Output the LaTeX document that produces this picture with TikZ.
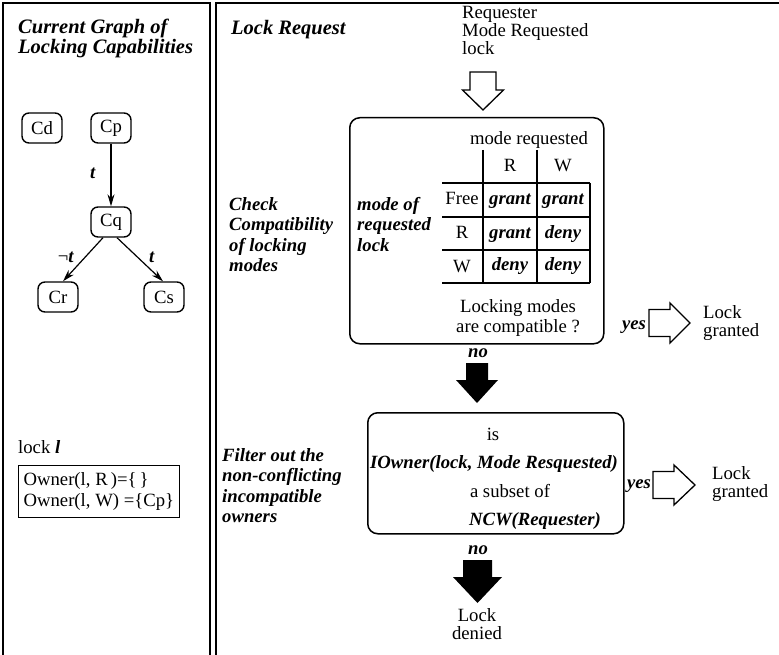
\documentclass[tikz,border=0pt]{standalone}
\usepackage{fontspec}
\setmainfont{Liberation Serif}
\usetikzlibrary{positioning,arrows.meta}

\newcommand{\bfit}[1]{\textbf{\textit{#1}}}

\tikzset{
  txt/.style={inner sep=0pt, font=\fontsize{18.7}{20.5}\selectfont},
  txtbi/.style={inner sep=0pt, font=\fontsize{18.7}{20.5}\selectfont\bfseries\itshape},
  shortlines/.style={inner sep=0pt, font=\fontsize{18.7}{18}\selectfont},
  heading/.style={inner sep=0pt, font=\fontsize{20.5}{17.5}\selectfont\bfseries\itshape},
  cell/.style={text height=13pt, text depth=4pt},
  capnode/.style={txt, draw, line width=1.4pt, rounded corners=7pt, minimum width=40pt, minimum height=30pt},
  flowbox/.style={draw, line width=1.5pt, rounded corners=10pt},
  capedge/.style={line width=1.2pt, -{Stealth[length=12pt,width=7pt]}},
  tabline/.style={line width=1.2pt},
  panel/.style={line width=1.5pt},
  hollow/.style={draw, line width=1.3pt, fill=white, line join=miter},
  darkarrow/.style={fill=black}
}

\begin{document}
\begin{tikzpicture}[x=1pt, y=-1pt]
  \useasboundingbox (0,0) rectangle (779,655);

  % the two panels
  \draw[panel] (3,680) -- (3,3) -- (210,3) -- (210,680);
  \draw[panel] (800,3) -- (216,3) -- (216,680);

  % left panel: capabilities
  \node[heading, anchor=north west, align=left] (graphtitle) at (18,19) {Current Graph of\\Locking Capabilities};

  \node[capnode] (Cd) at (42,128) {Cd};
  \node[capnode] (Cp) at (111,128) {Cp};
  \node[capnode] (Cq) at (111,222) {Cq};
  \node[capnode] (Cr) at (58,297) {Cr};
  \node[capnode] (Cs) at (164,297) {Cs};

  \draw[capedge] (Cp) -- (Cq);
  \draw[capedge] ([xshift=-8pt]Cq.south) -- ([xshift=5pt]Cr.north);
  \draw[capedge] ([xshift=6pt]Cq.south) -- ([xshift=-1pt]Cs.north);

  \node[txt] (tpq) at (93,173) {\bfit{t}};
  \node[txt] (tqr) at (66,257) {¬\bfit{t}};
  \node[txt] (tqs) at (152,257) {\bfit{t}};

  \node[txt, anchor=base west] (lockl) at (18,453) {lock \bfit{l}};
  \node[draw, line width=1.2pt, anchor=north west, align=left, inner xsep=5pt, inner ysep=7pt,
        font=\fontsize{18.7}{21}\selectfont] (owners) at (18,465) {Owner(l, R\,)=\{\,\}\\Owner(l, W) =\{Cp\}};

  % right panel: request
  \node[heading, anchor=base west] (reqtitle) at (231,35) {Lock Request};
  \node[shortlines, anchor=north west, align=left] (request) at (462,6) {Requester\\Mode Requested\\lock};

  \coordinate (inTail) at (483,72);
  \draw[hollow] (inTail) +(-13,0) -- +(13,0) -- +(13,18) -- +(20.5,18) -- +(0,38) -- +(-20.5,18) -- +(-13,18) -- cycle;

  % compatibility check
  \node[flowbox, minimum width=254pt, minimum height=226pt, anchor=north west] (checkbox) at (349,117) {};
  \node[txtbi, anchor=north west, align=left] (checklabel) at (229,197) {Check\\Compatibility\\of locking\\modes};
  \node[txtbi, anchor=north west, align=left] (modelock) at (357,197) {mode of\\requested\\lock};

  \node[txt] (modereq) at (529,140) {mode requested};
  \foreach \y in {183,217,250,283}
    \draw[tabline] (442,\y) -- (590,\y);
  \foreach \x/\top in {483/150, 537/150, 590/183}
    \draw[tabline] (\x,\top) -- (\x,283);
  \node[txt, cell] (colR) at (510,167) {R};
  \node[txt, cell] (colW) at (563,167) {W};
  \foreach \y/\row in {200/Free, 234/R, 268/W}
    \node[txt, cell] (row\row) at (462,\y) {\row};
  \foreach \x/\y/\val/\n in {510/200/grant/a, 563/200/grant/b, 510/234/grant/c,
                             563/234/deny/d, 510/266/deny/e, 563/266/deny/f}
    \node[txtbi, cell] (cell\n) at (\x,\y) {\val};

  \node[txt, anchor=north, align=center] (compat) at (518,299) {Locking modes\\are compatible ?};

  \node[txtbi, cell] (yes1) at (634,325) {yes};
  \coordinate (yesTail1) at (649,323);
  \node[shortlines, anchor=north west, align=left] (granted1) at (703,305) {Lock\\granted};

  \node[txtbi, cell] (no1) at (478,353) {no};
  \coordinate (noTail1) at (477,363);

  % filter owners
  \node[flowbox, minimum width=256pt, minimum height=121pt, anchor=north west] (filterbox) at (367,412) {};
  \node[txtbi, anchor=north west, align=left] (filterlabel) at (222,448) {Filter out the\\non-conflicting\\incompatible\\owners};
  \node[txt, cell] (isline) at (493,435.5) {is};
  \node[txtbi, cell] (iowner) at (494,463.5) {IOwner(lock, Mode Resquested)};
  \node[txt, cell] (subset) at (510,493) {a subset of};
  \node[txtbi, cell] (ncw) at (535,521) {NCW(Requester)};

  \node[txtbi, cell] (yes2) at (639,484) {yes};
  \coordinate (yesTail2) at (653,485);
  \node[shortlines, anchor=north west, align=left] (granted2) at (712,466) {Lock\\granted};

  \node[txtbi, cell] (no2) at (478,550) {no};
  \coordinate (noTail2) at (477.5,560);
  \node[shortlines, anchor=north, align=center] (denied) at (477,608) {Lock\\denied};

  % block arrows
  \foreach \tail/\s/\h/\a/\l in {yesTail1/13.5/20/21/41, yesTail2/13.5/20/21/42}
    \draw[hollow] (\tail) +(0,-\s) -- +(\a,-\s) -- +(\a,-\h) -- +(\l,0) -- +(\a,\h) -- +(\a,\s) -- +(0,\s) -- cycle;
  \foreach \tail/\s/\h/\a/\l in {noTail1/11/21/17/40, noTail2/14.5/24.5/17/43}
    \fill[darkarrow] (\tail) +(-\s,0) -- +(\s,0) -- +(\s,\a) -- +(\h,\a) -- +(0,\l) -- +(-\h,\a) -- +(-\s,\a) -- cycle;
\end{tikzpicture}
\end{document}
